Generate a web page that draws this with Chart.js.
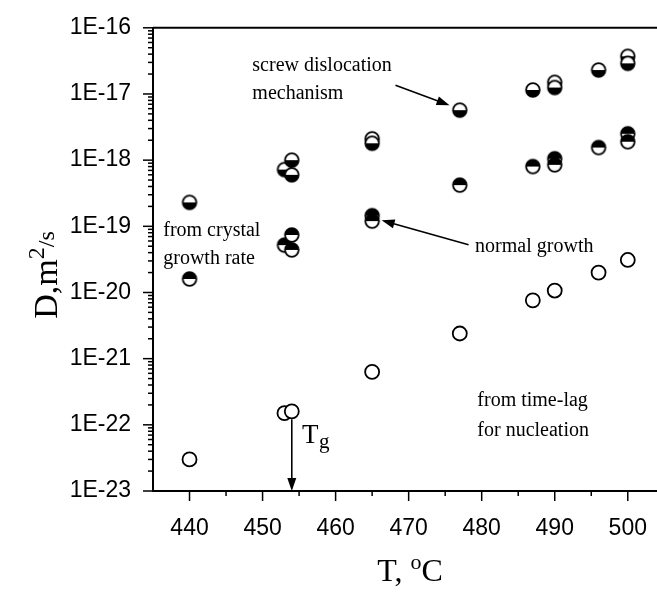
<!DOCTYPE html>
<html>
<head>
<meta charset="utf-8">
<script src="https://cdn.jsdelivr.net/npm/chart.js@4.4.0/dist/chart.umd.min.js"></script>
<style>
  html, body { margin: 0; padding: 0; background: #fff; }
  #wrap { width: 657px; height: 594px; }
</style>
</head>
<body>
<div id="wrap"><canvas id="myChart"></canvas></div>
<script>
// crystal growth rate, screw dislocation mechanism
const screwT = [440, 453, 454, 454, 465, 465, 477, 487, 490, 490, 496, 500, 500];
const screwD = [2.3e-19, 7.2e-19, 1.0e-18, 6.0e-19, 2.1e-18, 1.8e-18, 5.7e-18, 1.15e-17, 1.5e-17, 1.25e-17, 2.3e-17, 3.7e-17, 2.9e-17];

// crystal growth rate, normal growth
const normalT = [440, 453, 454, 454, 465, 465, 477, 487, 490, 490, 496, 500, 500];
const normalD = [1.6e-20, 5.2e-20, 7.4e-20, 4.4e-20, 1.45e-19, 1.2e-19, 4.2e-19, 8.0e-19, 1.05e-18, 8.5e-19, 1.55e-18, 2.5e-18, 1.9e-18];

// time-lag for nucleation
const lagT = [440, 453, 454, 465, 477, 487, 490, 496, 500];
const lagD = [3.0e-23, 1.5e-22, 1.6e-22, 6.3e-22, 2.4e-21, 7.6e-21, 1.07e-20, 2.0e-20, 3.1e-20];

const yExponents = [-23, -22, -21, -20, -19, -18, -17, -16];
const xMajor = [440, 450, 460, 470, 480, 490, 500];

const serif = '"Liberation Serif", "Times New Roman", serif';
const sans = '"Liberation Sans", Arial, sans-serif';

function halfCircle(topBlack) {
    const c = document.createElement('canvas');
    c.width = 18; c.height = 18;
    const g = c.getContext('2d');
    g.fillStyle = '#fff';
    g.beginPath(); g.arc(9, 9, 6.8, 0, Math.PI * 2); g.fill();
    g.fillStyle = '#000';
    g.beginPath();
    if (topBlack) g.arc(9, 9, 6.8, Math.PI, Math.PI * 2);
    else g.arc(9, 9, 6.8, 0, Math.PI);
    g.closePath(); g.fill();
    g.lineWidth = 1.8; g.strokeStyle = '#000';
    g.beginPath(); g.arc(9, 9, 6.8, 0, Math.PI * 2); g.stroke();
    return c;
}

const pts = (xs, ys) => xs.map((v, i) => ({ x: v, y: ys[i] }));

// text notes, placed in data units (T, log10 D)
const notes = [
    { t: 'screw dislocation', x: 448.6, e: -16.58 },
    { t: 'mechanism', x: 448.6, e: -16.99 },
    { t: 'normal growth', x: 479.1, e: -19.31 },
    { t: 'from crystal', x: 436.4, e: -19.07 },
    { t: 'growth rate', x: 436.4, e: -19.49 },
    { t: 'from time-lag', x: 479.4, e: -21.64 },
    { t: 'for nucleation', x: 479.4, e: -22.09 }
];
const arrows = [
    { x1: 468.2, e1: -16.87, x2: 475.6, e2: -17.17 },
    { x1: 478.2, e1: -19.28, x2: 466.3, e2: -18.91 }
];

function arrow(ctx, x1, y1, x2, y2) {
    const a = Math.atan2(y2 - y1, x2 - x1);
    ctx.beginPath(); ctx.moveTo(x1, y1); ctx.lineTo(x2 - 8 * Math.cos(a), y2 - 8 * Math.sin(a)); ctx.stroke();
    ctx.beginPath();
    ctx.moveTo(x2, y2);
    ctx.lineTo(x2 - 13 * Math.cos(a) + 4.5 * Math.sin(a), y2 - 13 * Math.sin(a) - 4.5 * Math.cos(a));
    ctx.lineTo(x2 - 13 * Math.cos(a) - 4.5 * Math.sin(a), y2 - 13 * Math.sin(a) + 4.5 * Math.cos(a));
    ctx.closePath(); ctx.fill();
}

const decor = {
    id: 'decor',
    afterDraw(chart) {
        const { ctx, chartArea: ca, scales: { x, y } } = chart;
        const px = v => x.getPixelForValue(v);
        const py = e => y.getPixelForValue(Math.pow(10, e));
        ctx.save();
        ctx.strokeStyle = '#000'; ctx.fillStyle = '#000';

        // frame top line, runs to the edge like the cropped original
        ctx.lineWidth = 2;
        ctx.beginPath(); ctx.moveTo(ca.left, ca.top); ctx.lineTo(chart.width, ca.top); ctx.stroke();
        ctx.beginPath(); ctx.moveTo(ca.right, ca.bottom); ctx.lineTo(chart.width, ca.bottom); ctx.stroke();

        // y ticks (outward)
        ctx.lineWidth = 1.5;
        for (let e = -23; e <= -16; e++) {
            const yy = py(e);
            ctx.beginPath(); ctx.moveTo(ca.left, yy); ctx.lineTo(ca.left - 10, yy); ctx.stroke();
            if (e < -16) {
                for (let m = 2; m <= 9; m++) {
                    const ym = y.getPixelForValue(m * Math.pow(10, e));
                    ctx.beginPath(); ctx.moveTo(ca.left, ym); ctx.lineTo(ca.left - 5, ym); ctx.stroke();
                }
            }
        }
        // x ticks (outward)
        for (let v = 440; v <= 500; v += 5) {
            const xx = px(v);
            const len = v % 10 === 0 ? 10 : 5;
            ctx.beginPath(); ctx.moveTo(xx, ca.bottom); ctx.lineTo(xx, ca.bottom + len); ctx.stroke();
        }

        // notes
        ctx.font = '20px ' + serif;
        ctx.textBaseline = 'middle'; ctx.textAlign = 'left';
        notes.forEach(n => ctx.fillText(n.t, px(n.x), py(n.e)));
        ctx.lineWidth = 1.6;
        arrows.forEach(a => arrow(ctx, px(a.x1), py(a.e1), px(a.x2), py(a.e2)));

        // Tg marker
        const tgX = px(454);
        arrow(ctx, tgX, y.getPixelForValue(1.6e-22) + 8, tgX, ca.bottom);
        ctx.font = '27px ' + serif;
        ctx.textBaseline = 'alphabetic';
        ctx.fillText('T', px(455.4), py(-22.13) + 10);
        ctx.font = '21px ' + serif;
        ctx.fillText('g', px(455.4) + 17, py(-22.13) + 15);

        // x title: T, oC
        ctx.font = '32px ' + serif;
        let w1 = ctx.measureText('T, ').width, w3 = ctx.measureText('C').width;
        ctx.font = '22px ' + serif;
        let w2 = ctx.measureText('o').width;
        let sx = 410 - (w1 + w2 + w3) / 2, by = 581;
        ctx.font = '32px ' + serif; ctx.fillText('T, ', sx, by);
        ctx.font = '22px ' + serif; ctx.fillText('o', sx + w1, by - 12);
        ctx.font = '32px ' + serif; ctx.fillText('C', sx + w1 + w2, by);

        // y title: D,m2/s
        ctx.translate(57, 275);
        ctx.rotate(-Math.PI / 2);
        ctx.font = '34px ' + serif;
        const a1 = ctx.measureText('D,m').width;
        ctx.font = '24px ' + serif;
        const a2 = ctx.measureText('2').width, a3 = ctx.measureText('/s').width;
        let s0 = -(a1 + a2 + a3) / 2;
        ctx.font = '34px ' + serif; ctx.fillText('D,m', s0, 0);
        ctx.font = '24px ' + serif; ctx.fillText('2', s0 + a1, -13);
        ctx.fillText('/s', s0 + a1 + a2, -3);
        ctx.restore();
    }
};

new Chart(document.getElementById('myChart'), {
    type: 'scatter',
    data: {
        datasets: [
            {
                label: 'time-lag for nucleation',
                data: pts(lagT, lagD),
                pointStyle: 'circle',
                pointRadius: 7,
                borderWidth: 1.8,
                borderColor: '#000',
                backgroundColor: '#fff'
            },
            {
                label: 'normal growth',
                data: pts(normalT, normalD),
                pointStyle: halfCircle(true),
                pointRadius: 9
            },
            {
                label: 'screw dislocation mechanism',
                data: pts(screwT, screwD),
                pointStyle: halfCircle(false),
                pointRadius: 9
            }
        ]
    },
    options: {
        responsive: true,
        maintainAspectRatio: false,
        animation: false,
        layout: { autoPadding: false, padding: { top: 24, right: 0, left: 0, bottom: 0 } },
        plugins: {
            legend: { display: false },
            tooltip: { enabled: false }
        },
        scales: {
            x: {
                type: 'linear',
                min: 435,
                max: 504,
                grid: { display: false },
                border: { display: true, color: '#000', width: 2 },
                ticks: {
                    stepSize: 10,
                    includeBounds: false,
                    color: '#000',
                    padding: 16,
                    font: { family: sans, size: 23 },
                    callback: v => (xMajor.includes(v) ? String(v) : '')
                },
                afterFit: s => { s.height = 103; s.paddingLeft = 0; s.paddingRight = 0; }
            },
            y: {
                type: 'logarithmic',
                min: 1e-23,
                max: 1e-16,
                grid: { display: false },
                border: { display: true, color: '#000', width: 2 },
                afterBuildTicks: s => { s.ticks = yExponents.map(e => ({ value: Math.pow(10, e) })); },
                ticks: {
                    autoSkip: false,
                    color: '#000',
                    padding: 14,
                    font: { family: sans, size: 23 },
                    callback: v => '1E' + Math.round(Math.log10(v))
                },
                afterFit: s => { s.width = 153; }
            }
        }
    },
    plugins: [decor]
});
</script>
</body>
</html>
